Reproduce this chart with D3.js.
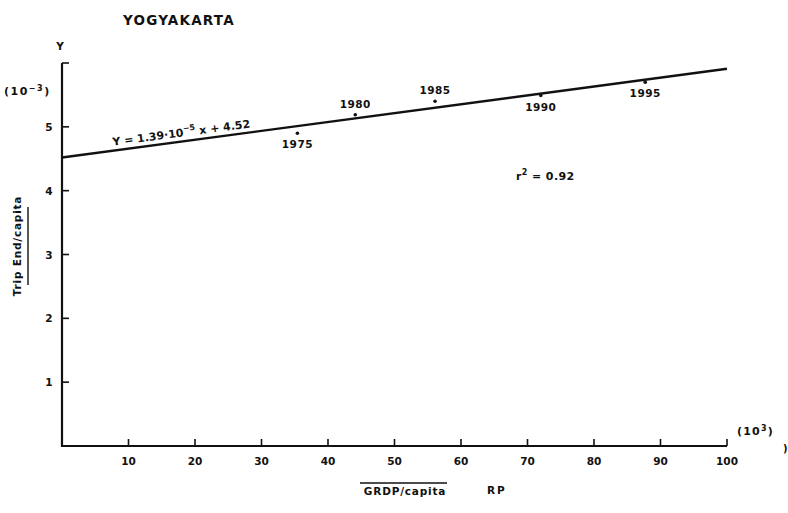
<!DOCTYPE html>
<html>
<head>
<meta charset="utf-8">
<script src="https://cdn.jsdelivr.net/npm/d3@7"></script>
<style>
  body { margin: 0; background: #fff; }
  text { font-family: "DejaVu Sans", sans-serif; font-weight: bold; fill: #111; }
</style>
</head>
<body>
<script>
// trip end per capita vs GRDP per capita, Yogyakarta

// data
var years = [1975, 1980, 1985, 1990, 1995]
var grdp = [35.4, 44.1, 56.1, 72.0, 87.7]      // 10^3 RP
var trips = [4.90, 5.19, 5.40, 5.49, 5.70]     // 10^-3
var labelPos = ['below', 'above', 'above', 'below', 'below']
var xTicks = [10, 20, 30, 40, 50, 60, 70, 80, 90, 100]
var yTicks = [1, 2, 3, 4, 5, 6]
var yTickLabels = ['1', '2', '3', '4', '5', '']
// regression  Y = 1.39*10^-5 x + 4.52  (x in RP)
var slope = 1.39e-5 * 1000, intercept = 4.52
var r2 = '0.92'

var width = 788, height = 513
var margin = {top: 63, right: 61, bottom: 67, left: 62}

var x = d3.scaleLinear().domain([0, 100]).range([margin.left, width - margin.right])
var y = d3.scaleLinear().domain([0, 6]).range([height - margin.bottom, margin.top])

var svg = d3.select('body').append('svg')
    .attr('width', width)
    .attr('height', height)

// axes lines
svg.append('line')
    .attr('x1', x(0)).attr('x2', x(0))
    .attr('y1', y(6)).attr('y2', y(0) + 1)
    .attr('stroke', '#111').attr('stroke-width', 2.2)
svg.append('line')
    .attr('x1', x(0)).attr('x2', x(100))
    .attr('y1', y(0)).attr('y2', y(0))
    .attr('stroke', '#111').attr('stroke-width', 2.2)

// x ticks (pointing up)
svg.selectAll('.xtick')
    .data(xTicks)
    .enter()
  .append('line')
    .attr('x1', function (d) { return x(d) })
    .attr('x2', function (d) { return x(d) })
    .attr('y1', y(0))
    .attr('y2', y(0) - 7)
    .attr('stroke', '#111').attr('stroke-width', 1.6)
svg.selectAll('.xlab')
    .data(xTicks)
    .enter()
  .append('text')
    .attr('x', function (d) { return x(d) })
    .attr('y', y(0) + 19)
    .attr('text-anchor', 'middle')
    .style('font-size', '10.5px')
    .text(function (d) { return d })

// y ticks (pointing right)
svg.selectAll('.ytick')
    .data(yTicks)
    .enter()
  .append('line')
    .attr('x1', x(0))
    .attr('x2', x(0) + 7)
    .attr('y1', function (d) { return y(d) })
    .attr('y2', function (d) { return y(d) })
    .attr('stroke', '#111').attr('stroke-width', 1.6)
svg.selectAll('.ylab')
    .data(yTicks)
    .enter()
  .append('text')
    .attr('x', x(0) - 13)
    .attr('y', function (d) { return y(d) + 4 })
    .attr('text-anchor', 'middle')
    .style('font-size', '10.5px')
    .text(function (d, i) { return yTickLabels[i] })

// regression line
svg.append('line')
    .attr('x1', x(0)).attr('y1', y(intercept))
    .attr('x2', x(100)).attr('y2', y(intercept + slope * 100))
    .attr('stroke', '#111').attr('stroke-width', 2.4)

// observed points
svg.selectAll('circle')
    .data(years)
    .enter()
  .append('circle')
    .attr('cx', function (d, i) { return x(grdp[i]) })
    .attr('cy', function (d, i) { return y(trips[i]) })
    .attr('r', 1.8)
    .attr('fill', '#111')
svg.selectAll('.yr')
    .data(years)
    .enter()
  .append('text')
    .attr('x', function (d, i) { return x(grdp[i]) })
    .attr('y', function (d, i) { return y(trips[i]) + (labelPos[i] == 'above' ? -7 : 15) })
    .attr('text-anchor', 'middle')
    .style('font-size', '10.5px')
    .style('letter-spacing', '0.5px')
    .text(function (d) { return d })

// equation along the line
var angle = Math.atan2(y(intercept + slope * 100) - y(intercept), x(100) - x(0)) * 180 / Math.PI
var eq = svg.append('text')
    .attr('transform', 'translate(' + 113 + ',' + (y(intercept + slope * 7.6) - 5) + ') rotate(' + angle + ')')
    .style('font-size', '11px')
eq.append('tspan').text('Y = 1.39·10')
eq.append('tspan').attr('dy', -5).style('font-size', '8px').text('−5')
eq.append('tspan').attr('dy', 5).text(' x + 4.52')

// r squared
var rt = svg.append('text')
    .attr('x', 516).attr('y', 180)
    .style('font-size', '11px')
    .style('letter-spacing', '0.4px')
rt.append('tspan').text('r')
rt.append('tspan').attr('dy', -5).style('font-size', '8px').text('2')
rt.append('tspan').attr('dy', 5).text(' = ' + r2)

// title and axis captions
svg.append('text')
    .attr('x', 123).attr('y', 25)
    .style('font-size', '13.5px')
    .style('letter-spacing', '1.2px')
    .text('YOGYAKARTA')
svg.append('text')
    .attr('x', 60).attr('y', 50)
    .attr('text-anchor', 'middle')
    .style('font-size', '10.5px')
    .text('Y')
var yu = svg.append('text')
    .attr('x', 4).attr('y', 95)
    .style('font-size', '11px')
    .style('letter-spacing', '1.5px')
yu.append('tspan').text('(10')
yu.append('tspan').attr('dy', -4).style('font-size', '8px').text('−3')
yu.append('tspan').attr('dy', 4).text(')')

var xu = svg.append('text')
    .attr('x', 737).attr('y', 435)
    .style('font-size', '11px')
    .style('letter-spacing', '1.2px')
xu.append('tspan').text('(10')
xu.append('tspan').attr('dy', -4).style('font-size', '8px').text('3')
xu.append('tspan').attr('dy', 4).text(')')
svg.append('text')
    .attr('x', 783).attr('y', 452)
    .style('font-size', '10px')
    .text(')')

// y label, rotated, with underline
svg.append('text')
    .attr('transform', 'translate(21,246) rotate(-90)')
    .attr('text-anchor', 'middle')
    .style('font-size', '10.5px')
    .style('letter-spacing', '0.8px')
    .text('Trip End/capita')
svg.append('line')
    .attr('x1', 28).attr('x2', 28)
    .attr('y1', 207).attr('y2', 285)
    .attr('stroke', '#111').attr('stroke-width', 1.4)

// x label, with overline
svg.append('text')
    .attr('x', 405).attr('y', 495)
    .attr('text-anchor', 'middle')
    .style('font-size', '10.5px')
    .style('letter-spacing', '0.8px')
    .text('GRDP/capita')
svg.append('line')
    .attr('x1', 360).attr('x2', 447)
    .attr('y1', 483).attr('y2', 483)
    .attr('stroke', '#111').attr('stroke-width', 1.4)
svg.append('text')
    .attr('x', 487).attr('y', 494)
    .style('font-size', '10.5px')
    .style('letter-spacing', '2px')
    .text('RP')
</script>
</body>
</html>
